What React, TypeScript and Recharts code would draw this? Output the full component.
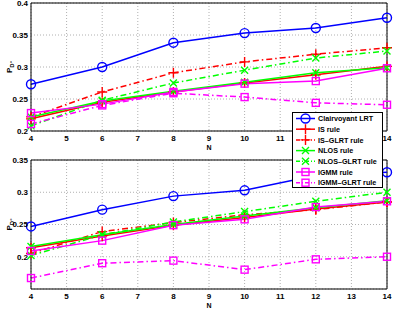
import React from 'react';
import { LineChart, Line, XAxis, YAxis, CartesianGrid, ReferenceLine } from 'recharts';

const nValues = [4, 6, 8, 10, 12, 14];
const xTicks = [4, 5, 6, 7, 8, 9, 10, 11, 12, 13, 14];

// top panel
const topClairvoyant = [0.273, 0.300, 0.338, 0.353, 0.361, 0.377];
const topIs = [0.219, 0.245, 0.261, 0.275, 0.288, 0.301];
const topIsGlrt = [0.222, 0.261, 0.291, 0.308, 0.320, 0.330];
const topNlos = [0.222, 0.247, 0.262, 0.276, 0.291, 0.299];
const topNlosGlrt = [0.208, 0.248, 0.275, 0.295, 0.314, 0.325];
const topIgmm = [0.228, 0.242, 0.261, 0.274, 0.278, 0.298];
const topIgmmGlrt = [0.211, 0.240, 0.259, 0.253, 0.244, 0.241];

// bottom panel
const botClairvoyant = [0.247, 0.273, 0.294, 0.303, 0.326, 0.331];
const botIs = [0.214, 0.232, 0.249, 0.261, 0.274, 0.285];
const botIsGlrt = [0.205, 0.239, 0.253, 0.265, 0.273, 0.285];
const botNlos = [0.216, 0.234, 0.250, 0.263, 0.276, 0.287];
const botNlosGlrt = [0.202, 0.234, 0.254, 0.270, 0.286, 0.300];
const botIgmm = [0.209, 0.225, 0.249, 0.258, 0.277, 0.286];
const botIgmmGlrt = [0.167, 0.190, 0.194, 0.180, 0.196, 0.200];

const topTicks = [0.2, 0.25, 0.3, 0.35, 0.4];
const botTicks = [0.2, 0.25, 0.3, 0.35];

const DASHDOT = '6 3 1.5 3';
const FONT = '"Liberation Sans", Arial, sans-serif';

type Marker = 'circle' | 'plus' | 'x' | 'square';

const series = [
  { key: 'clairvoyant', name: 'Clairvoyant LRT', color: '#0000ff', dash: undefined, marker: 'circle' as Marker },
  { key: 'is', name: 'IS rule', color: '#ff0000', dash: undefined, marker: 'plus' as Marker },
  { key: 'isGlrt', name: 'IS\u2013GLRT rule', color: '#ff0000', dash: DASHDOT, marker: 'plus' as Marker },
  { key: 'nlos', name: 'NLOS rule', color: '#00ff00', dash: undefined, marker: 'x' as Marker },
  { key: 'nlosGlrt', name: 'NLOS\u2013GLRT rule', color: '#00ff00', dash: DASHDOT, marker: 'x' as Marker },
  { key: 'igmm', name: 'IGMM rule', color: '#ff00ff', dash: undefined, marker: 'square' as Marker },
  { key: 'igmmGlrt', name: 'IGMM\u2013GLRT rule', color: '#ff00ff', dash: DASHDOT, marker: 'square' as Marker },
];

const buildRows = (cols: Record<string, number[]>) =>
  nValues.map((n, i) => {
    const row: Record<string, number> = { n };
    Object.keys(cols).forEach(k => { row[k] = cols[k][i]; });
    return row;
  });

const topData = buildRows({
  clairvoyant: topClairvoyant, is: topIs, isGlrt: topIsGlrt, nlos: topNlos,
  nlosGlrt: topNlosGlrt, igmm: topIgmm, igmmGlrt: topIgmmGlrt,
});
const botData = buildRows({
  clairvoyant: botClairvoyant, is: botIs, isGlrt: botIsGlrt, nlos: botNlos,
  nlosGlrt: botNlosGlrt, igmm: botIgmm, igmmGlrt: botIgmmGlrt,
});

const MarkerShape = ({ cx, cy, marker, color }: { cx: number; cy: number; marker: Marker; color: string }) => {
  if (cx == null || cy == null) return null;
  if (marker === 'circle') return <circle cx={cx} cy={cy} r={4.5} fill="none" stroke={color} strokeWidth={1.4} />;
  if (marker === 'square') return <rect x={cx - 3.5} y={cy - 3.5} width={7} height={7} fill="none" stroke={color} strokeWidth={1.4} />;
  if (marker === 'plus')
    return <path d={`M${cx - 5},${cy}H${cx + 5}M${cx},${cy - 5}V${cy + 5}`} stroke={color} strokeWidth={1.4} />;
  return <path d={`M${cx - 3.5},${cy - 3.5}L${cx + 3.5},${cy + 3.5}M${cx - 3.5},${cy + 3.5}L${cx + 3.5},${cy - 3.5}`} stroke={color} strokeWidth={1.4} />;
};

const YLabel = ({ viewBox }: any) => {
  const x = 12;
  const y = viewBox.y + viewBox.height / 2;
  return (
    <text transform={`rotate(-90, ${x}, ${y})`} x={x} y={y} textAnchor="middle" fontFamily={FONT} fontWeight="bold" fontSize={8} fill="#000">
      <tspan>P</tspan>
      <tspan fontSize={6} dy={2}>D</tspan>
      <tspan fontSize={6} dy={0}>°</tspan>
    </text>
  );
};

const tickStyle = { fontSize: 8, fontWeight: 'bold' as const, fill: '#000', fontFamily: FONT };

const Panel = ({ data, domain, ticks, top, height }: { data: any[]; domain: [number, number]; ticks: number[]; top: number; height: number }) => (
  <div style={{ position: 'absolute', left: 0, top }}>
    <LineChart width={395} height={height} data={data} margin={{ top: 3, right: 8, bottom: 0, left: 0 }}>
      <CartesianGrid stroke="#b0b0b0" strokeDasharray="1 2" />
      <XAxis
        dataKey="n" type="number" domain={[4, 14]} ticks={xTicks} interval={0}
        tick={tickStyle} tickLine={false} tickSize={0} axisLine={{ stroke: '#000' }} height={22} tickMargin={4}
        label={{ value: 'N', position: 'insideBottom', offset: 3, style: { ...tickStyle, fontSize: 7 } }}
      />
      <YAxis
        type="number" domain={domain} ticks={ticks} interval={0} allowDataOverflow
        tick={tickStyle} tickLine={false} tickSize={0} axisLine={{ stroke: '#000' }} width={31} tickMargin={3}
        tickFormatter={(v: number) => String(v)}
        label={<YLabel />}
      />
      <ReferenceLine y={domain[1]} stroke="#000" />
      <ReferenceLine x={14} stroke="#000" />
      {series.map(s => (
        <Line
          key={s.key} dataKey={s.key} name={s.name} type="linear"
          stroke={s.color} strokeWidth={1.5} strokeDasharray={s.dash}
          dot={(p: any) => <MarkerShape key={`${s.key}-${p.index}`} cx={p.cx} cy={p.cy} marker={s.marker} color={s.color} />}
          isAnimationActive={false}
        />
      ))}
    </LineChart>
  </div>
);

const LegendBox = () => (
  <div style={{ position: 'absolute', left: 292, top: 112, width: 91, height: 76, background: '#fff', border: '1px solid #000', boxSizing: 'border-box' }}>
    <svg width={91} height={76} style={{ position: 'absolute', left: -1, top: -1 }}>
      {series.map((s, i) => {
        const y = 6.5 + i * 10.7;
        return (
          <g key={s.key}>
            <line x1={4} x2={23} y1={y} y2={y} stroke={s.color} strokeWidth={1.5} strokeDasharray={s.dash ? '4 2 1 2' : undefined} />
            <MarkerShape cx={13.5} cy={y} marker={s.marker} color={s.color} />
            <text x={26} y={y + 2.7} fontFamily={FONT} fontWeight="bold" fontSize={7.2} fill="#000">{s.name}</text>
          </g>
        );
      })}
    </svg>
  </div>
);

export default function App() {
  return (
    <div style={{ position: 'absolute', left: 0, top: 0, width: 395, height: 314, background: '#fff' }}>
      <Panel data={topData} domain={[0.2, 0.4]} ticks={topTicks} top={0} height={153} />
      <Panel data={botData} domain={[0.15, 0.35]} ticks={botTicks} top={157} height={154} />
      <LegendBox />
    </div>
  );
}
